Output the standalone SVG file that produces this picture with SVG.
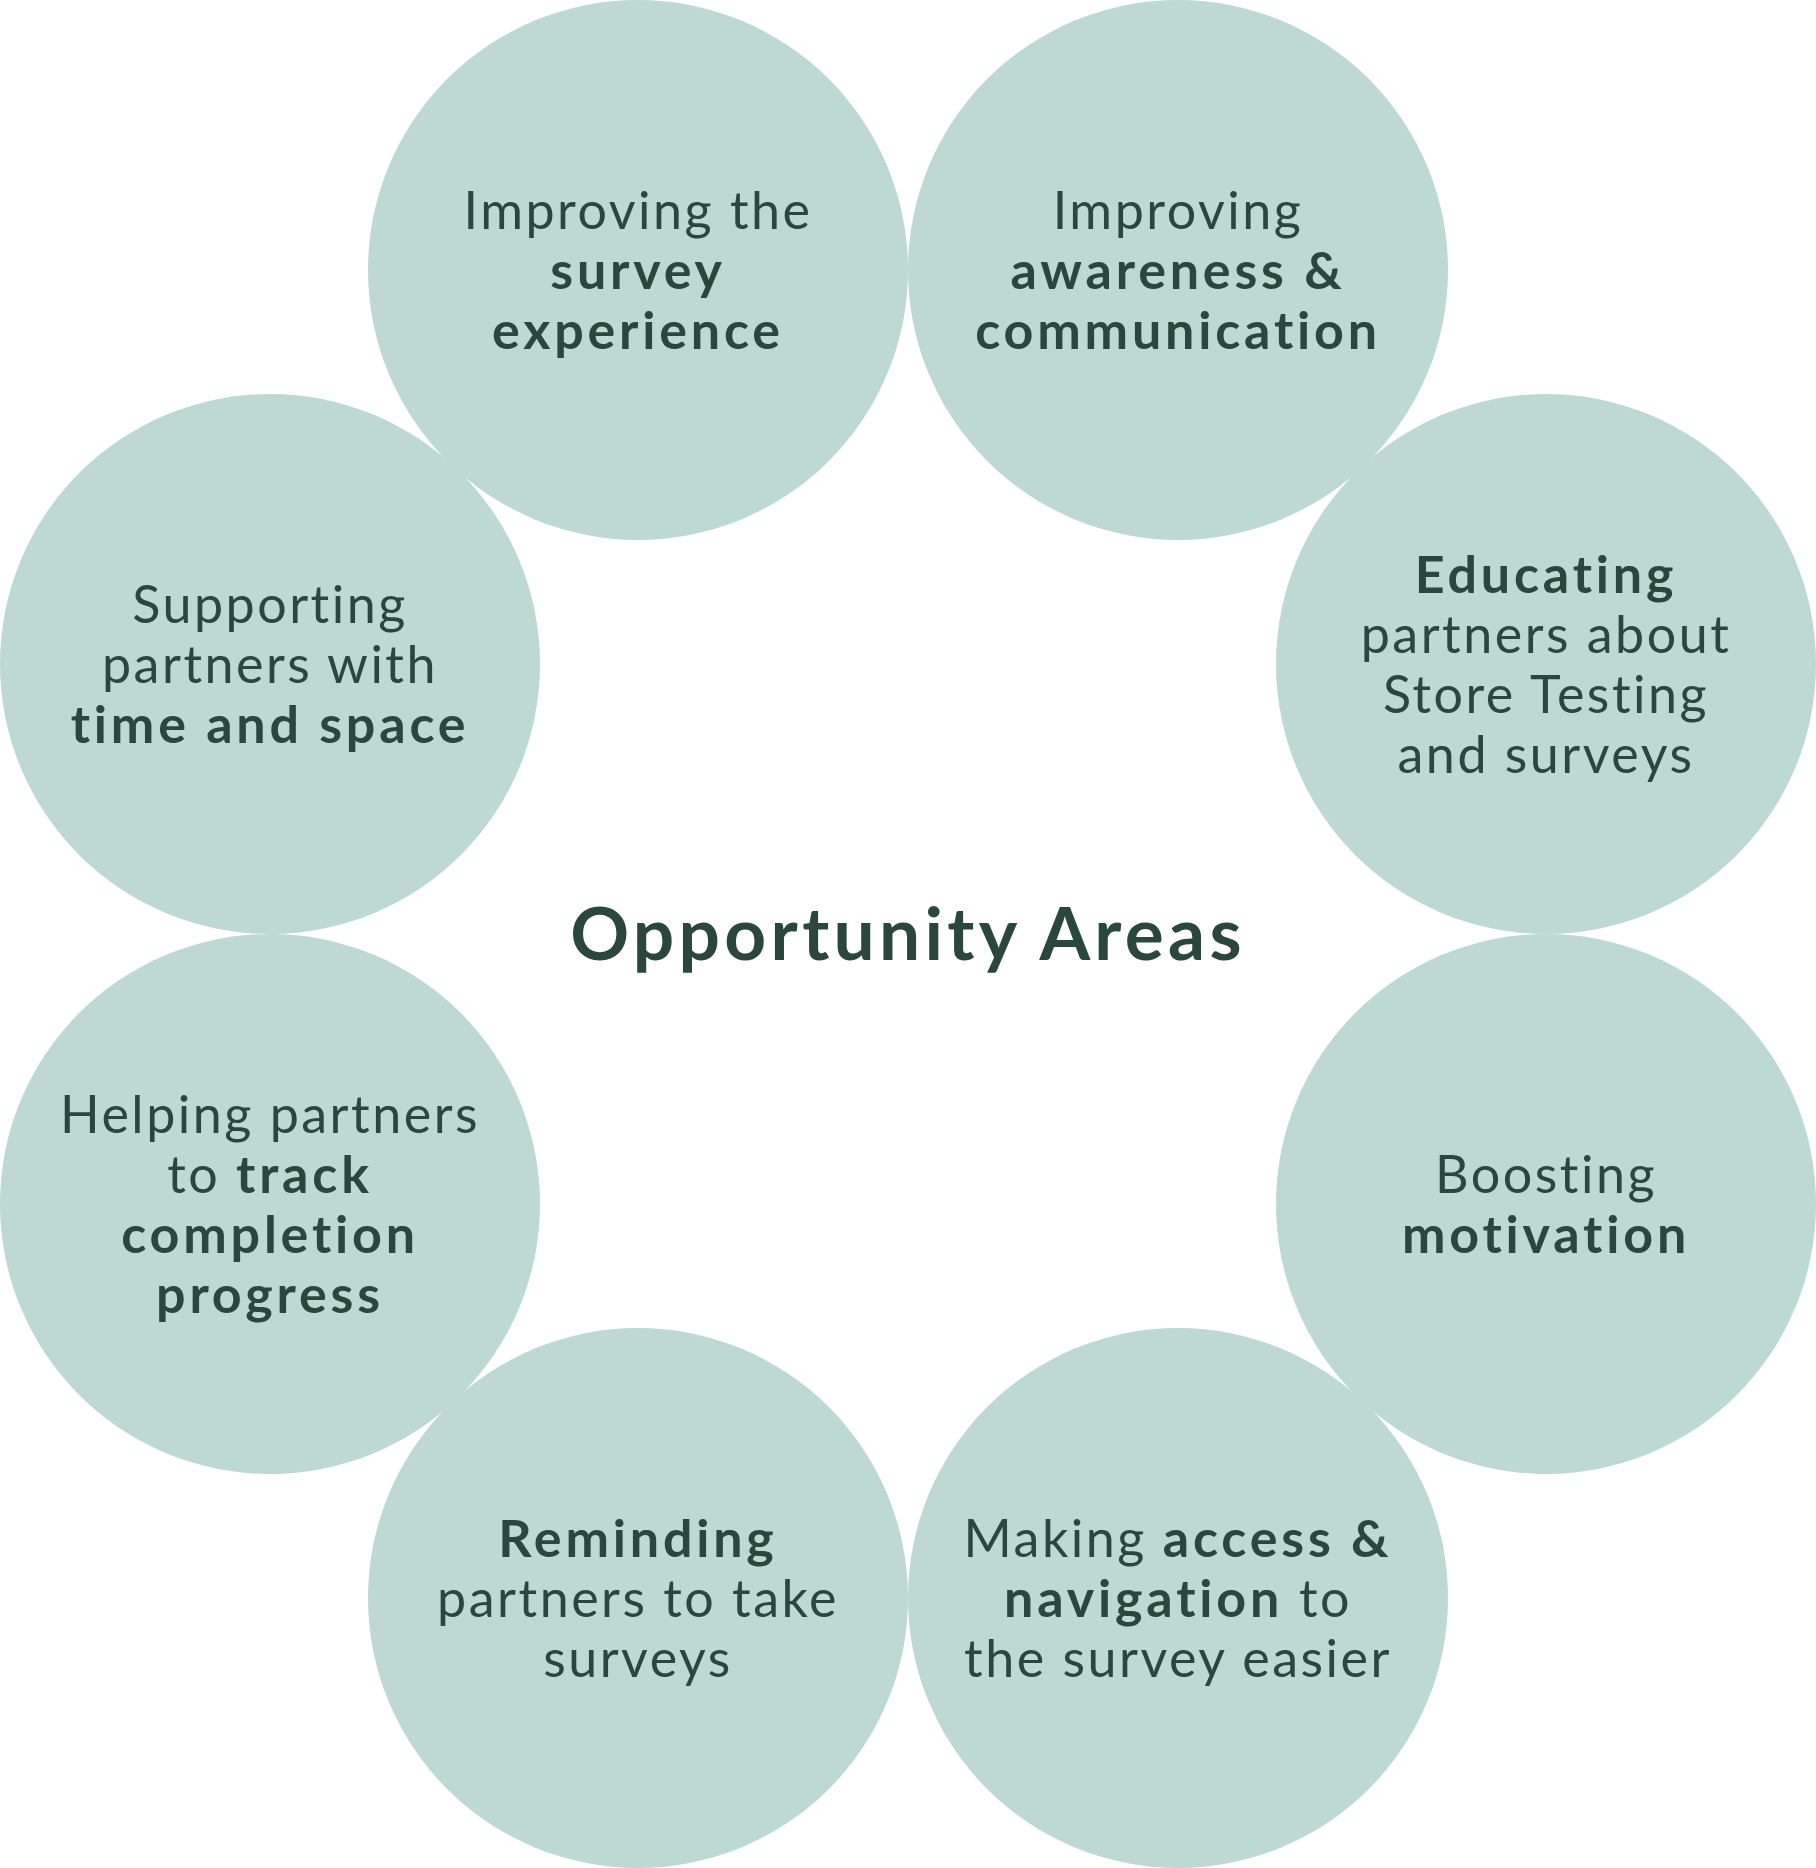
<svg xmlns="http://www.w3.org/2000/svg" width="1816" height="1868" viewBox="0 0 1816 1868">
<style>
.c{fill:#bdd9d2}
.t{font-family:Lato,"Noto Sans",sans-serif;font-size:52px;fill:#2b463d;text-anchor:middle;letter-spacing:2.5px}
.b{font-weight:700;letter-spacing:3.8px}
.title{font-family:Lato,"Noto Sans",sans-serif;font-size:73px;font-weight:700;fill:#2b463d;text-anchor:middle;letter-spacing:4.3px}
</style>
<rect width="1816" height="1868" fill="#ffffff"/>
<g id="connectors"></g>
<g id="n1">
<circle class="c" cx="638" cy="270" r="270"/>
<text class="t"><tspan x="638" y="228.5">Improving the</tspan><tspan class="b" x="638" y="288.5">survey</tspan><tspan class="b" x="638" y="348.5">experience</tspan></text>
</g>
<g id="n2">
<circle class="c" cx="1178" cy="270" r="270"/>
<text class="t"><tspan x="1178" y="228.5">Improving</tspan><tspan class="b" x="1178" y="288.5">awareness &amp;</tspan><tspan class="b" x="1178" y="348.5">communication</tspan></text>
</g>
<g id="n3">
<circle class="c" cx="1546" cy="664" r="270"/>
<text class="t"><tspan class="b" x="1546" y="592.5">Educating</tspan><tspan x="1546" y="652.5">partners about</tspan><tspan x="1546" y="712.5">Store Testing</tspan><tspan x="1546" y="772.5">and surveys</tspan></text>
</g>
<g id="n4">
<circle class="c" cx="1546" cy="1204" r="270"/>
<text class="t"><tspan x="1546" y="1192.5">Boosting</tspan><tspan class="b" x="1546" y="1252.5">motivation</tspan></text>
</g>
<g id="n5">
<circle class="c" cx="1178" cy="1598" r="270"/>
<text class="t"><tspan x="1178" y="1556.5">Making <tspan class="b">access &amp;</tspan></tspan><tspan x="1178" y="1616.5"><tspan class="b">navigation</tspan> to</tspan><tspan x="1178" y="1676.5">the survey easier</tspan></text>
</g>
<g id="n6">
<circle class="c" cx="638" cy="1598" r="270"/>
<text class="t"><tspan class="b" x="638" y="1556.5">Reminding</tspan><tspan x="638" y="1616.5">partners to take</tspan><tspan x="638" y="1676.5">surveys</tspan></text>
</g>
<g id="n7">
<circle class="c" cx="270" cy="1204" r="270"/>
<text class="t"><tspan x="270" y="1132.5">Helping partners</tspan><tspan x="270" y="1192.5">to <tspan class="b">track</tspan></tspan><tspan class="b" x="270" y="1252.5">completion</tspan><tspan class="b" x="270" y="1312.5">progress</tspan></text>
</g>
<g id="n8">
<circle class="c" cx="270" cy="664" r="270"/>
<text class="t"><tspan x="270" y="622.5">Supporting</tspan><tspan x="270" y="682.5">partners with</tspan><tspan class="b" x="270" y="742.5">time and space</tspan></text>
</g>
<g id="center">
<text class="title" x="908" y="960">Opportunity Areas</text>
</g>
</svg>
